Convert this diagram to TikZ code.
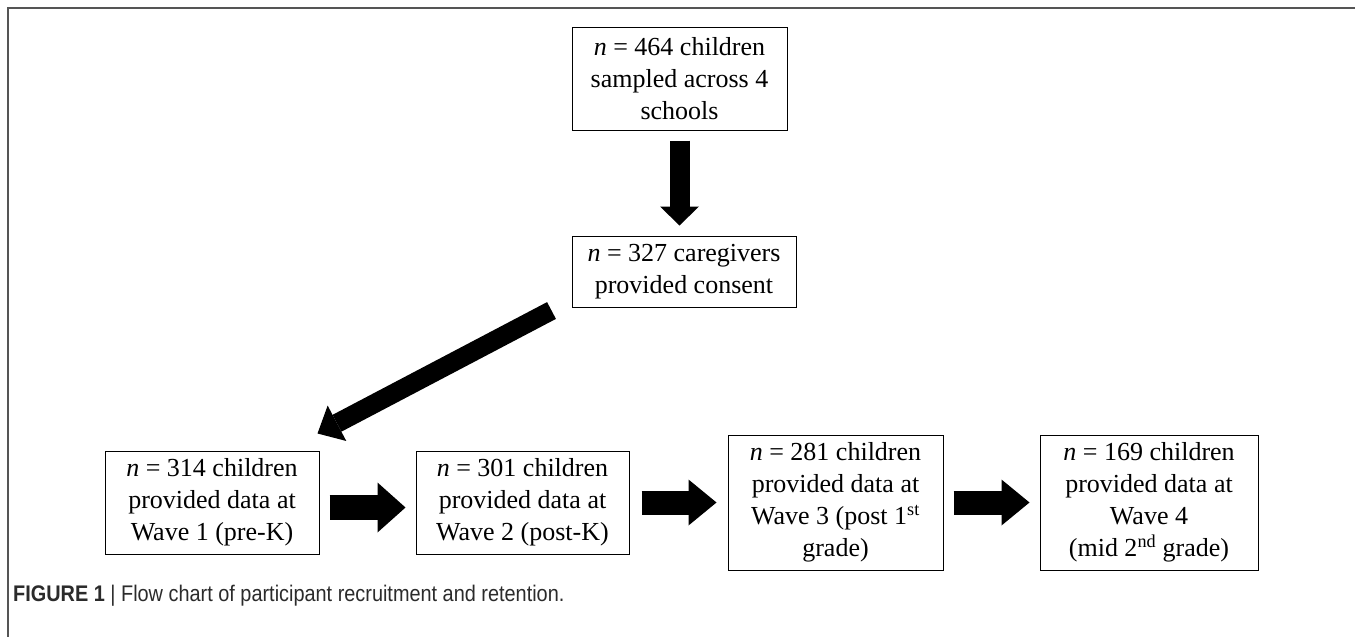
\documentclass[tikz,border=0pt]{standalone}
\usepackage{fontspec}
\setmainfont{Liberation Serif}
\newfontfamily\capfont[FakeStretch=0.88]{Liberation Sans}
\usetikzlibrary{arrows.meta,calc}
\definecolor{framegray}{HTML}{555555}
\definecolor{capgray}{HTML}{2B2B2B}
\begin{document}
\begin{tikzpicture}[x=1pt,y=-1pt,
  box/.style={draw=black,line width=1pt,align=center,inner sep=0pt,
    font=\fontsize{26}{32}\selectfont},
  blkarrow/.style 2 args={draw=black,line width=#1,
    -{Triangle[width=#2,length=28pt,line width=0pt]}},
  framestyle/.style={draw=framegray,line width=1.8pt}]
\useasboundingbox (0,0) rectangle (1355,637);
\fill[white] (0,0) rectangle (1355,637);
\draw[framestyle] (8,637) -- (8,8) -- (1355,8);

\node[box,minimum width=215pt,minimum height=103pt] (top) at (679.5,78.5)
  {\textit{n} = 464 children\\sampled across 4\\schools};
\node[box,minimum width=224pt,minimum height=71pt] (cons) at (684,271.5)
  {\textit{n} = 327 caregivers\\provided consent};
\node[box,minimum width=214pt,minimum height=103pt] (w1) at (212,502.5)
  {\textit{n} = 314 children\\provided data at\\Wave 1 (pre-K)};
\node[box,minimum width=213pt,minimum height=103pt] (w2) at (522.5,502.5)
  {\textit{n} = 301 children\\provided data at\\Wave 2 (post-K)};
\node[box,minimum width=215pt,minimum height=135pt] (w3) at (835.5,502.5)
  {\textit{n} = 281 children\\provided data at\\Wave 3 (post 1\textsuperscript{st}\\grade)};
\node[box,minimum width=218pt,minimum height=135pt] (w4) at (1149,502.5)
  {\textit{n} = 169 children\\provided data at\\Wave 4\\(mid 2\textsuperscript{nd} grade)};

\draw[draw=black,line width=20pt,-{Triangle[width=39pt,length=19pt,line width=0pt]}]
  ($(top.south)+(0,10)$) -- ($(top.south |- cons.north)+(0,-10)$);
\draw[draw=black,line width=19pt,-{Triangle[width=40pt,length=22pt,line width=0pt]}]
  ($(cons.south west)+(-20,3)$) -- ($(w1.north east)+(-2,-17)$);
\draw[blkarrow={25pt}{50pt}] ($(w1.east)+(10,5)$) -- ($(w2.west)+(-10,5)$);
\draw[blkarrow={24pt}{46pt}] ($(w2.east)+(12,0)$) -- ($(w3.west)+(-11,0)$);
\draw[blkarrow={24pt}{46pt}] ($(w3.east)+(10,0)$) -- ($(w4.west)+(-10,0)$);

\node[anchor=base west,inner sep=0pt,text=capgray] (cap) at (13,601)
  {\capfont\fontsize{22.6}{24}\selectfont\textbf{FIGURE 1} | Flow chart of participant recruitment and retention.};
\end{tikzpicture}
\end{document}
